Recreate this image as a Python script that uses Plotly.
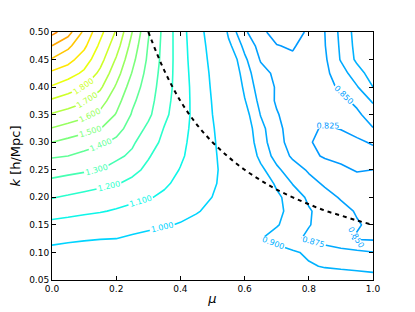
import plotly.graph_objects as go

# grid of the contoured quantity
mu = [0.0, 0.05, 0.1, 0.15, 0.2, 0.25, 0.3, 0.35, 0.4, 0.45, 0.5,
      0.55, 0.6, 0.65, 0.7, 0.75, 0.8, 0.85, 0.9, 0.95, 1.0]
k = [0.05, 0.075, 0.1, 0.125, 0.15, 0.175, 0.2, 0.225, 0.25, 0.275,
     0.3, 0.325, 0.35, 0.375, 0.4, 0.425, 0.45, 0.475, 0.5]

z_k050 = [0.94, 0.939, 0.938, 0.937, 0.936, 0.935, 0.934, 0.933, 0.932, 0.931, 0.93, 0.929, 0.928, 0.926, 0.924, 0.922, 0.92, 0.917, 0.914, 0.912, 0.91]
z_k075 = [0.955, 0.953, 0.951, 0.949, 0.947, 0.945, 0.943, 0.941, 0.939, 0.937, 0.934, 0.931, 0.927, 0.922, 0.916, 0.91, 0.903, 0.898, 0.896, 0.894, 0.892]
z_k100 = [0.975, 0.972, 0.968, 0.965, 0.962, 0.958, 0.954, 0.95, 0.946, 0.942, 0.937, 0.932, 0.926, 0.92, 0.913, 0.904, 0.895, 0.889, 0.884, 0.88, 0.876]
z_k125 = [1.022, 1.012, 1.006, 1.002, 1.0, 0.989, 0.978, 0.967, 0.956, 0.945, 0.934, 0.923, 0.912, 0.901, 0.89, 0.88, 0.871, 0.863, 0.855, 0.848, 0.847]
z_k150 = [1.076, 1.066, 1.056, 1.046, 1.036, 1.026, 1.016, 1.006, 0.995, 0.98, 0.964, 0.948, 0.933, 0.917, 0.902, 0.889, 0.876, 0.868, 0.86, 0.852, 0.845]
z_k175 = [1.138, 1.127, 1.116, 1.106, 1.092, 1.074, 1.057, 1.039, 1.022, 1.005, 0.985, 0.966, 0.946, 0.927, 0.907, 0.891, 0.877, 0.867, 0.857, 0.848, 0.843]
z_k200 = [1.205, 1.189, 1.172, 1.156, 1.14, 1.123, 1.107, 1.084, 1.056, 1.027, 0.999, 0.976, 0.953, 0.929, 0.906, 0.887, 0.871, 0.858, 0.848, 0.842, 0.838]
z_k225 = [1.273, 1.256, 1.24, 1.223, 1.206, 1.179, 1.146, 1.113, 1.078, 1.043, 1.008, 0.978, 0.95, 0.922, 0.895, 0.874, 0.858, 0.847, 0.84, 0.835, 0.831]
z_k250 = [1.342, 1.328, 1.314, 1.301, 1.263, 1.223, 1.181, 1.139, 1.096, 1.054, 1.013, 0.976, 0.941, 0.907, 0.88, 0.861, 0.847, 0.838, 0.83, 0.823, 0.825]
z_k275 = [1.41, 1.40, 1.373, 1.346, 1.32, 1.282, 1.207, 1.159, 1.113, 1.063, 1.012, 0.969, 0.929, 0.892, 0.866, 0.846, 0.832, 0.822, 0.818, 0.815, 0.815]
z_k300 = [1.5, 1.473, 1.446, 1.418, 1.379, 1.315, 1.243, 1.177, 1.123, 1.067, 1.009, 0.963, 0.92, 0.886, 0.859, 0.84, 0.827, 0.818, 0.815, 0.82, 0.828]
z_k325 = [1.595, 1.564, 1.534, 1.504, 1.436, 1.359, 1.279, 1.195, 1.133, 1.07, 1.005, 0.96, 0.916, 0.883, 0.856, 0.84, 0.83, 0.822, 0.826, 0.835, 0.849]
z_k350 = [1.69, 1.66, 1.626, 1.577, 1.494, 1.391, 1.32, 1.222, 1.143, 1.071, 1.0, 0.955, 0.911, 0.874, 0.852, 0.838, 0.833, 0.83, 0.835, 0.845, 0.862]
z_k375 = [1.785, 1.753, 1.714, 1.643, 1.538, 1.418, 1.338, 1.237, 1.145, 1.069, 0.995, 0.949, 0.902, 0.867, 0.847, 0.838, 0.835, 0.837, 0.843, 0.856, 0.878]
z_k400 = [1.89, 1.845, 1.80, 1.717, 1.587, 1.453, 1.35, 1.251, 1.148, 1.064, 0.989, 0.941, 0.894, 0.862, 0.848, 0.84, 0.838, 0.842, 0.854, 0.873, 0.90]
z_k425 = [1.98, 1.942, 1.881, 1.778, 1.64, 1.494, 1.364, 1.259, 1.147, 1.057, 0.984, 0.933, 0.887, 0.858, 0.845, 0.838, 0.838, 0.844, 0.864, 0.889, 0.912]
z_k450 = [2.09, 2.035, 1.95, 1.836, 1.69, 1.528, 1.382, 1.265, 1.145, 1.049, 0.977, 0.923, 0.88, 0.848, 0.835, 0.83, 0.835, 0.846, 0.877, 0.905, 0.92]
z_k475 = [2.2, 2.123, 2.022, 1.88, 1.744, 1.562, 1.394, 1.267, 1.143, 1.043, 0.969, 0.907, 0.868, 0.841, 0.826, 0.822, 0.837, 0.849, 0.879, 0.908, 0.925]
z_k500 = [2.33, 2.24, 2.08, 1.93, 1.79, 1.60, 1.41, 1.27, 1.14, 1.036, 0.959, 0.894, 0.854, 0.831, 0.815, 0.812, 0.83, 0.85, 0.881, 0.91, 0.93]

z_grid = [z_k050, z_k075, z_k100, z_k125, z_k150, z_k175, z_k200, z_k225,
          z_k250, z_k275, z_k300, z_k325, z_k350, z_k375, z_k400, z_k425,
          z_k450, z_k475, z_k500]

# contour levels
levels = [0.825, 0.85, 0.875, 0.9, 1.0, 1.1, 1.2, 1.3, 1.4, 1.5, 1.6,
          1.7, 1.8, 1.9, 2.0, 2.1, 2.2, 2.3]

# dashed curve
dash_mu = [0.30, 0.35, 0.40, 0.45, 0.50, 0.55, 0.60, 0.65, 0.70, 0.75, 0.80, 0.85, 0.90, 0.95, 1.00]
dash_k = [0.50, 0.43, 0.375, 0.333, 0.30, 0.273, 0.25, 0.231, 0.214, 0.20, 0.1875, 0.176, 0.167, 0.158, 0.15]

x_ticks = [0.0, 0.2, 0.4, 0.6, 0.8, 1.0]
y_ticks = [0.05, 0.10, 0.15, 0.20, 0.25, 0.30, 0.35, 0.40, 0.45, 0.50]

# matplotlib-style jet colour map, normalised over [cmin, cmax]
cmin, cmax = 0.0, 3.0
jet_stops = [
    (0.0, (0, 0, 128)), (0.11, (0, 0, 255)), (0.125, (0, 0, 255)),
    (0.34, (0, 219, 255)), (0.35, (0, 229, 247)), (0.375, (21, 255, 226)),
    (0.64, (239, 255, 8)), (0.65, (247, 245, 0)), (0.66, (255, 236, 0)),
    (0.89, (255, 19, 0)), (0.91, (232, 0, 0)), (1.0, (128, 0, 0)),
]


def jet_color(value):
    t = min(max((value - cmin) / (cmax - cmin), 0.0), 1.0)
    for (t0, c0), (t1, c1) in zip(jet_stops[:-1], jet_stops[1:]):
        if t0 <= t <= t1:
            f = 0 if t1 == t0 else (t - t0) / (t1 - t0)
            c = [round(a + (b - a) * f) for a, b in zip(c0, c1)]
            return f"rgb({c[0]},{c[1]},{c[2]})"
    return "rgb(128,0,0)"


fig = go.Figure()
for lv in levels:
    col = jet_color(lv)
    fig.add_trace(go.Contour(
        x=mu, y=k, z=z_grid,
        autocontour=False,
        contours=dict(coloring="lines", showlabels=True,
                      start=lv, end=lv, size=1,
                      labelformat=".3f",
                      labelfont=dict(size=8, family="DejaVu Sans", color=col)),
        colorscale=[[0, col], [1, col]],
        line=dict(width=1.6, smoothing=0, color=col),
        showscale=False, hoverinfo="skip",
    ))

fig.add_trace(go.Scatter(
    x=dash_mu, y=dash_k, mode="lines",
    line=dict(color="black", width=2, dash="4px,4px", shape="spline"),
    showlegend=False, hoverinfo="skip",
))

axis_common = dict(showline=True, linecolor="black", linewidth=1, mirror="ticks",
                   ticks="inside", ticklen=4, tickcolor="black", showgrid=False,
                   zeroline=False, automargin=False,
                   tickfont=dict(size=9, color="black"))

fig.update_layout(
    width=415, height=312,
    margin=dict(l=52, r=42, t=32, b=32),
    paper_bgcolor="white", plot_bgcolor="white",
    font=dict(family="DejaVu Sans", color="black"),
    showlegend=False,
    xaxis=dict(range=[0, 1], tickvals=x_ticks, ticktext=[f"{v:.1f}" for v in x_ticks],
               title=dict(text="<i>μ</i>", font=dict(size=13), standoff=1),
               **axis_common),
    yaxis=dict(range=[0.05, 0.5], tickvals=y_ticks, ticktext=[f"{v:.2f}" for v in y_ticks],
               title=dict(text="<i>k</i> [h/Mpc]", font=dict(size=13), standoff=5),
               **axis_common),
)

fig.write_html("out.html",
               config={"displayModeBar": False, "staticPlot": True},
               post_script="document.body.style.margin='0px';document.body.style.overflow='hidden';")
